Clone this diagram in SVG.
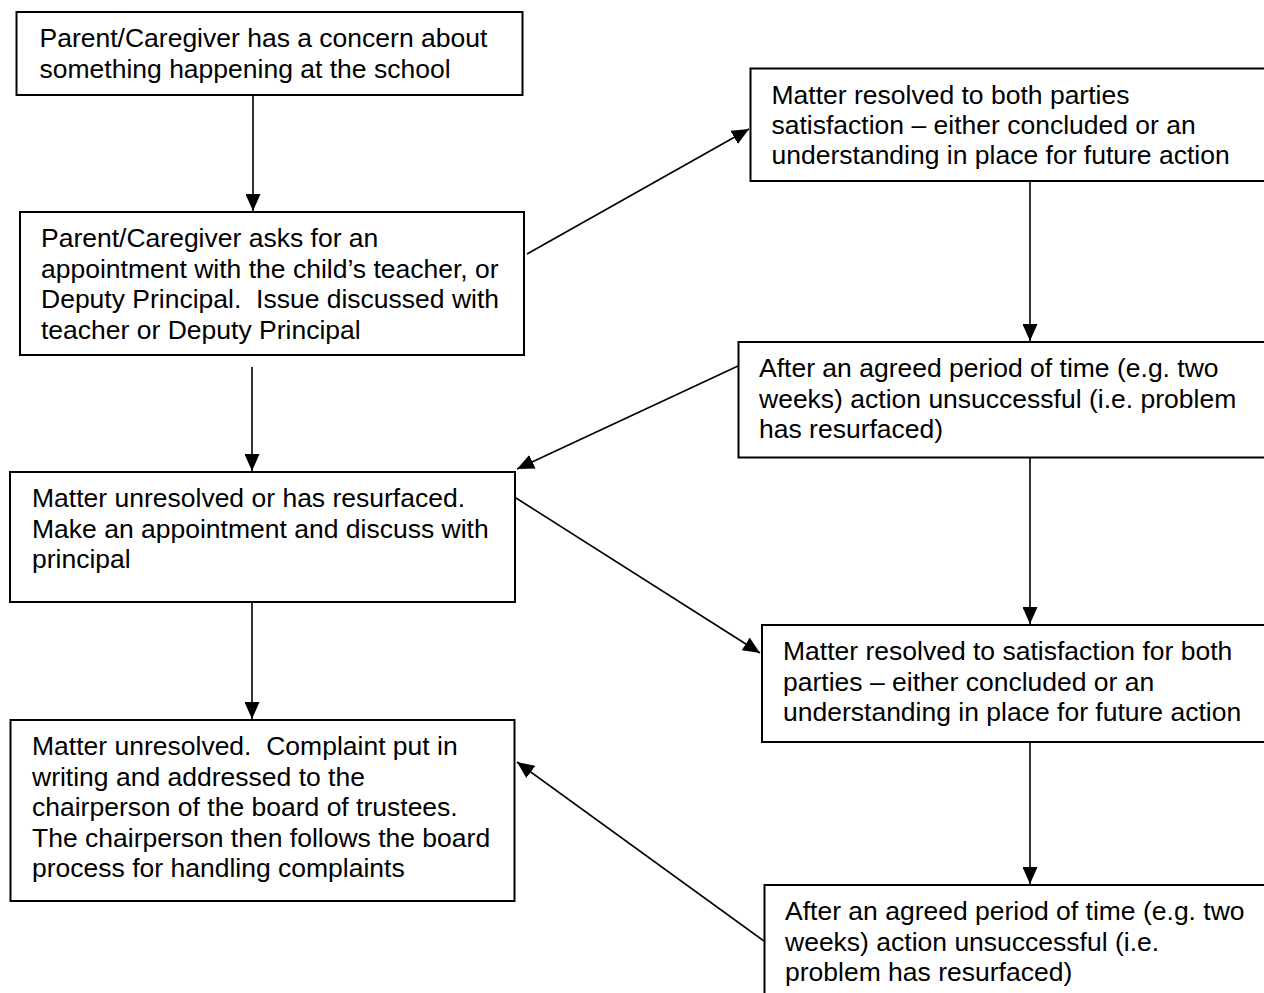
<svg xmlns="http://www.w3.org/2000/svg" width="1264" height="993" viewBox="0 0 1264 993">
<style>
.box{fill:#fff;stroke:#000;stroke-width:2}
.t{font-family:"Liberation Sans",Arial,sans-serif;font-size:26.5px;fill:#000;white-space:pre}
.c{stroke:#000;stroke-width:1.6;fill:none;marker-end:url(#ah)}
</style>
<defs>
<marker id="ah" markerUnits="userSpaceOnUse" markerWidth="18" markerHeight="15" refX="17" refY="7.5" orient="auto" viewBox="0 0 18 15">
<path d="M0,0 L17,7.5 L0,15 z" fill="#000"/>
</marker>
</defs>
<rect width="1264" height="993" fill="#fff"/>
<g id="connectors">
<line class="c" x1="253" y1="95" x2="253" y2="211"/>
<line class="c" x1="527" y1="254" x2="749" y2="129"/>
<line class="c" x1="1030" y1="181" x2="1030" y2="341"/>
<line class="c" x1="738" y1="366" x2="517" y2="469"/>
<line class="c" x1="252" y1="367" x2="252" y2="471"/>
<line class="c" x1="516" y1="498" x2="760" y2="653"/>
<line class="c" x1="1030" y1="457" x2="1030" y2="624"/>
<line class="c" x1="252" y1="602" x2="252" y2="719"/>
<line class="c" x1="1030" y1="742" x2="1030" y2="884"/>
<line class="c" x1="764" y1="941" x2="517" y2="762"/>
</g>
<g id="n1">
<rect class="box" x="16.5" y="12" width="506" height="83"/>
<text class="t" x="39.5" y="47">Parent/Caregiver has a concern about</text>
<text class="t" x="39.5" y="77.5">something happening at the school</text>
</g>
<g id="n2">
<rect class="box" x="20" y="212" width="504" height="143"/>
<text class="t" x="41" y="247">Parent/Caregiver asks for an</text>
<text class="t" x="41" y="277.5">appointment with the child’s teacher, or</text>
<text class="t" x="41" y="308">Deputy Principal.  Issue discussed with</text>
<text class="t" x="41" y="338.5">teacher or Deputy Principal</text>
</g>
<g id="n3">
<rect class="box" x="10" y="472" width="505" height="130"/>
<text class="t" x="32" y="507">Matter unresolved or has resurfaced.</text>
<text class="t" x="32" y="537.5">Make an appointment and discuss with</text>
<text class="t" x="32" y="568">principal</text>
</g>
<g id="n4">
<rect class="box" x="10.5" y="720" width="504" height="181"/>
<text class="t" x="32" y="755">Matter unresolved.  Complaint put in</text>
<text class="t" x="32" y="785.5">writing and addressed to the</text>
<text class="t" x="32" y="816">chairperson of the board of trustees.</text>
<text class="t" x="32" y="846.5">The chairperson then follows the board</text>
<text class="t" x="32" y="877">process for handling complaints</text>
</g>
<g id="nA">
<rect class="box" x="750.5" y="68.5" width="530" height="112.5"/>
<text class="t" x="771.5" y="104">Matter resolved to both parties</text>
<text class="t" x="771.5" y="134">satisfaction – either concluded or an</text>
<text class="t" x="771.5" y="164">understanding in place for future action</text>
</g>
<g id="nB">
<rect class="box" x="738.5" y="342" width="540" height="115.5"/>
<text class="t" x="759" y="377">After an agreed period of time (e.g. two</text>
<text class="t" x="759" y="407.5">weeks) action unsuccessful (i.e. problem</text>
<text class="t" x="759" y="438">has resurfaced)</text>
</g>
<g id="nC">
<rect class="box" x="762" y="625" width="520" height="117"/>
<text class="t" x="783" y="660">Matter resolved to satisfaction for both</text>
<text class="t" x="783" y="690.5">parties – either concluded or an</text>
<text class="t" x="783" y="721">understanding in place for future action</text>
</g>
<g id="nD">
<rect class="box" x="764.5" y="885" width="520" height="130"/>
<text class="t" x="785" y="920">After an agreed period of time (e.g. two</text>
<text class="t" x="785" y="950.5">weeks) action unsuccessful (i.e.</text>
<text class="t" x="785" y="981">problem has resurfaced)</text>
</g>
</svg>
